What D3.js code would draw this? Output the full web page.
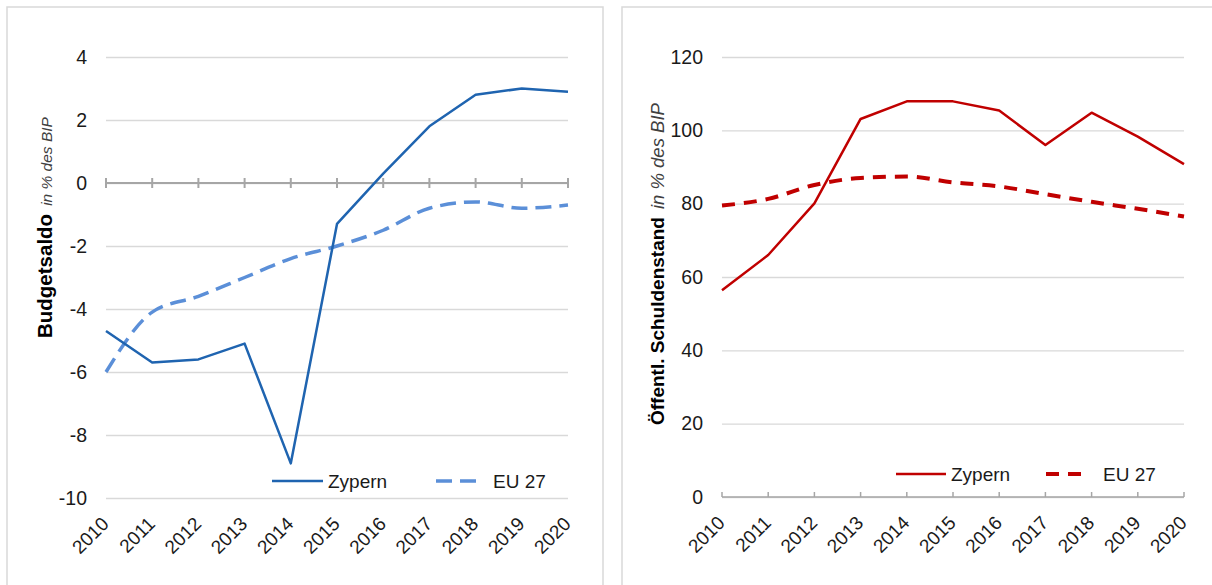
<!DOCTYPE html>
<html>
<head>
<meta charset="utf-8">
<script src="https://cdn.jsdelivr.net/npm/d3@7"></script>
<style>
  html, body { margin: 0; padding: 0; background: #ffffff; }
  svg { display: block; font-family: "Liberation Sans", Arial, sans-serif; }
</style>
</head>
<body>
<svg id="chart" width="1212" height="585"></svg>
<script>
// Years on the x axis (shared by both panels)
const years = ["2010", "2011", "2012", "2013", "2014", "2015", "2016", "2017", "2018", "2019", "2020"];

// Budget balance, % of GDP
const budgetCyprus = [-4.7, -5.7, -5.6, -5.1, -8.9, -1.3, 0.3, 1.8, 2.8, 3.0, 2.9];
const budgetEU27   = [-6.0, -4.1, -3.6, -3.0, -2.4, -2.0, -1.5, -0.8, -0.6, -0.8, -0.7];
const budgetTicks  = [-10, -8, -6, -4, -2, 0, 2, 4];

// Public debt, % of GDP
const debtCyprus = [56.4, 66.0, 80.1, 103.1, 107.9, 107.9, 105.4, 96.0, 104.8, 98.3, 90.8];
const debtEU27   = [79.5, 81.3, 85.1, 87.0, 87.4, 85.8, 84.7, 82.6, 80.5, 78.6, 76.5];
const debtTicks  = [0, 20, 40, 60, 80, 100, 120];

const seriesNames = ["Zypern", "EU 27"];

const svg = d3.select("#chart");

// Panel frames
svg.append("rect").attr("x", 7).attr("y", 7).attr("width", 596).attr("height", 600)
  .attr("fill", "none").attr("stroke", "#d9d9d9").attr("stroke-width", 1.5);
svg.append("rect").attr("x", 622).attr("y", 7).attr("width", 600).attr("height", 600)
  .attr("fill", "none").attr("stroke", "#d9d9d9").attr("stroke-width", 1.5);

function drawPanel(cfg) {
  const g = svg.append("g");
  const x = d3.scalePoint().domain(years).range([cfg.x0, cfg.x1]);
  const y = d3.scaleLinear().domain(cfg.domain).range([cfg.yBottom, cfg.yTop]);

  // Horizontal gridlines
  g.append("g")
    .attr("transform", `translate(${cfg.x0},0)`)
    .call(d3.axisLeft(y).tickValues(cfg.ticks).tickSize(-(cfg.x1 - cfg.x0)).tickFormat(""))
    .call(a => a.select(".domain").remove())
    .call(a => a.selectAll("line").attr("stroke", "#d9d9d9").attr("stroke-width", 1.4));

  // Y tick labels (plain hyphen for negatives)
  g.append("g")
    .attr("transform", `translate(${cfg.x0 - 16},0)`)
    .call(d3.axisLeft(y).tickValues(cfg.ticks).tickSize(0).tickFormat(d => String(d)))
    .call(a => a.select(".domain").remove())
    .call(a => a.selectAll("text").attr("font-size", 19.5).attr("fill", "#1a1a1a")
      .attr("font-family", "Liberation Sans, Arial, sans-serif"));

  // Category axis at zero
  const y0 = y(0);
  g.append("line").attr("x1", cfg.x0).attr("x2", cfg.x1).attr("y1", y0).attr("y2", y0)
    .attr("stroke", "#a6a6a6").attr("stroke-width", cfg.axisWidth);
  g.selectAll(".xtick").data(years).join("line")
    .attr("x1", d => x(d)).attr("x2", d => x(d))
    .attr("y1", y0 - cfg.tickUp).attr("y2", y0 + cfg.tickDown)
    .attr("stroke", "#a6a6a6").attr("stroke-width", cfg.axisWidth);

  // Year labels along the bottom
  g.selectAll(".xlabel").data(years).join("text")
    .attr("transform", d => `translate(${x(d) + 4},${cfg.yBottom + 27}) rotate(-45)`)
    .attr("text-anchor", "end")
    .attr("font-size", 19).attr("fill", "#1a1a1a")
    .text(d => d);

  // Series lines
  const solid = d3.line().x((d, i) => x(years[i])).y(d => y(d));
  const smooth = d3.line().x((d, i) => x(years[i])).y(d => y(d)).curve(d3.curveMonotoneX);

  g.append("path").datum(cfg.euValues).attr("d", smooth)
    .attr("fill", "none").attr("stroke", cfg.euColor).attr("stroke-width", cfg.dashWidth)
    .attr("stroke-dasharray", cfg.dash);
  g.append("path").datum(cfg.cyValues).attr("d", solid)
    .attr("fill", "none").attr("stroke", cfg.cyColor).attr("stroke-width", 2.5)
    .attr("stroke-linejoin", "round");

  // Legend
  const L = cfg.legend;
  g.append("line").attr("x1", L.s0).attr("x2", L.s1).attr("y1", L.y).attr("y2", L.y)
    .attr("stroke", cfg.cyColor).attr("stroke-width", 2.5);
  g.append("text").attr("x", L.t0).attr("y", L.y).attr("dy", "0.36em")
    .attr("font-size", 19).attr("fill", "#1a1a1a").text(seriesNames[0]);
  g.append("line").attr("x1", L.d0).attr("x2", L.d1).attr("y1", L.y).attr("y2", L.y)
    .attr("stroke", cfg.euColor).attr("stroke-width", cfg.dashWidth)
    .attr("stroke-dasharray", cfg.dash);
  g.append("text").attr("x", L.t1).attr("y", L.y).attr("dy", "0.36em")
    .attr("font-size", 19).attr("fill", "#1a1a1a").text(seriesNames[1]);

  // Rotated axis title: bold name followed by italic unit
  const title = g.append("text")
    .attr("transform", `translate(${cfg.titleX},${cfg.titleY}) rotate(-90)`)
    .attr("text-anchor", "start");
  title.append("tspan").attr("font-weight", "bold").attr("font-size", cfg.titleSize)
    .attr("fill", "#000").text(cfg.title);
  title.append("tspan").attr("dx", 8).attr("font-style", "italic").attr("font-size", cfg.unitSize)
    .attr("fill", "#404040").text("in % des BIP");
}

drawPanel({
  x0: 106, x1: 568, yTop: 57, yBottom: 498, domain: [-10, 4], ticks: budgetTicks,
  cyValues: budgetCyprus, euValues: budgetEU27,
  cyColor: "#1f64b0", euColor: "#5b8fd8", dash: "16,8", dashWidth: 3.5,
  axisWidth: 2, tickUp: 5, tickDown: 5,
  legend: { y: 481, s0: 272, s1: 323, t0: 328, d0: 436, d1: 477, t1: 493 },
  title: "Budgetsaldo", titleX: 52, titleY: 338, titleSize: 20.5, unitSize: 15.5
});

drawPanel({
  x0: 722, x1: 1184, yTop: 57, yBottom: 497, domain: [0, 120], ticks: debtTicks,
  cyValues: debtCyprus, euValues: debtEU27,
  cyColor: "#c00000", euColor: "#c00000", dash: "13,9", dashWidth: 4,
  axisWidth: 1.5, tickUp: 5, tickDown: 0,
  legend: { y: 474, s0: 896, s1: 946, t0: 951, d0: 1046, d1: 1087, t1: 1103 },
  title: "Öffentl. Schuldenstand", titleX: 664, titleY: 425, titleSize: 19, unitSize: 18.5
});
</script>
</body>
</html>
